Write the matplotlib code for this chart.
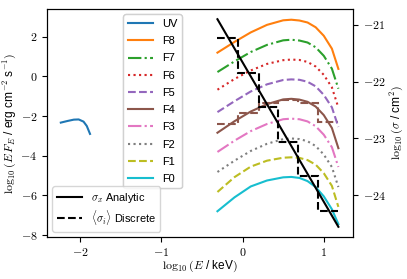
import matplotlib
matplotlib.use("Agg")
import matplotlib.pyplot as plt
from matplotlib.ticker import FuncFormatter
import numpy as np

plt.rcParams['mathtext.fontset'] = 'cm'
plt.rcParams['font.family'] = ['Liberation Sans', 'DejaVu Sans']

# UV part of the spectrum
uv_x = [-2.24, -2.16, -2.08, -2.02, -1.96, -1.92, -1.88]
uv_y = [-2.33, -2.25, -2.18, -2.17, -2.28, -2.50, -2.90]

# X-ray spectra, all on the same energy grid
fx = [-0.31, -0.1, 0.1, 0.3, 0.5, 0.6, 0.7, 0.8, 0.9, 1.0, 1.1, 1.18]
F8 = [1.20, 1.74, 2.22, 2.60, 2.83, 2.86, 2.82, 2.72, 2.48, 2.05, 1.40, 0.38]
F7 = [0.22, 0.76, 1.23, 1.59, 1.82, 1.85, 1.81, 1.71, 1.47, 1.04, 0.39, -0.62]
F6 = [-0.67, -0.13, 0.30, 0.63, 0.82, 0.85, 0.83, 0.73, 0.50, 0.08, -0.55, -1.58]
F5 = [-1.80, -1.25, -0.76, -0.40, -0.18, -0.15, -0.17, -0.27, -0.50, -0.93, -1.56, -2.55]
F4 = [-2.84, -2.26, -1.77, -1.40, -1.16, -1.13, -1.17, -1.28, -1.52, -1.95, -2.60, -3.62]
F3 = [-3.81, -3.24, -2.76, -2.40, -2.16, -2.13, -2.16, -2.27, -2.51, -2.94, -3.57, -4.57]
F2 = [-4.82, -4.25, -3.76, -3.40, -3.16, -3.13, -3.16, -3.27, -3.51, -3.94, -4.57, -5.58]
F1 = [-5.83, -5.08, -4.55, -4.25, -4.10, -4.08, -4.11, -4.22, -4.45, -4.88, -5.52, -6.58]
F0 = [-6.80, -6.10, -5.55, -5.25, -5.09, -5.07, -5.12, -5.28, -5.58, -6.05, -6.70, -7.45]
spectra = [('F8', F8), ('F7', F7), ('F6', F6), ('F5', F5), ('F4', F4),
           ('F3', F3), ('F2', F2), ('F1', F1), ('F0', F0)]
styles = ['-', '-.', ':', '--']

# binned F4 flux
bin_edges = [-0.31, -0.06, 0.20, 0.43, 0.68, 0.93, 1.17]
f4_binned = [-2.40, -1.83, -1.36, -1.18, -1.36, -2.28]

# cross sections (right axis)
sig_x = [-0.31, 1.18]
sig_y = [-20.90, -24.56]
sig_binned = [-21.23, -21.84, -22.45, -23.07, -23.67, -24.28]

fig = plt.figure(figsize=(4.07, 2.79), dpi=100)
ax1 = fig.add_axes([0.1155, 0.1505, 0.7518, 0.8172])
ax2 = ax1.twinx()

lines = []
l, = ax1.plot(uv_x, uv_y, color='C0', lw=1.5, label='UV')
lines.append(l)
for i, (name, ys) in enumerate(spectra):
    l, = ax1.plot(fx, ys, color='C%d' % (i + 1), ls=styles[i % 4], lw=1.5, label=name)
    lines.append(l)
ax1.stairs(f4_binned, bin_edges, color='C5', ls='--', lw=1.5, baseline=None)

ax2.plot(sig_x, sig_y, color='black', lw=1.5)
ax2.stairs(sig_binned, bin_edges, color='black', ls='--', lw=1.5, baseline=None)

ax1.set_xlim(-2.41, 1.36)
ax1.set_ylim(-8.1, 3.4)
ax2.set_ylim(-24.74, -20.72)
ax1.set_xticks([-2, -1, 0, 1])
ax1.set_yticks([-8, -6, -4, -2, 0, 2])
ax2.set_yticks([-24, -23, -22, -21])

fmt = FuncFormatter(lambda v, p: r'$%d$' % v)
for a in (ax1, ax2):
    a.tick_params(labelsize=8.6)
    a.yaxis.set_major_formatter(fmt)
ax1.xaxis.set_major_formatter(fmt)

ax1.set_xlabel(r'$\log_{10}(E$ / keV$)$', fontsize=8.6, labelpad=0)
ax1.set_ylabel(r'$\log_{10}(E\,F_E$ / erg cm$^{-2}$ s$^{-1})$', fontsize=8.6, labelpad=1)
ax2.set_ylabel(r'$\log_{10}(\sigma$ / cm$^2)$', fontsize=8.6, labelpad=2)

leg1 = ax1.legend(handles=lines, loc='upper left', bbox_to_anchor=(0.232, 1.0),
                  fontsize=7.9, handlelength=2.3, labelspacing=0.66)
ax1.add_artist(leg1)
h1, = ax1.plot([], [], color='black', lw=1.5)
h2, = ax1.plot([], [], color='black', ls='--', lw=1.5)
ax2.legend([h1, h2], [r'$\sigma_x$ Analytic', r'$\langle\sigma_i\rangle$ Discrete'],
           loc='lower left', fontsize=7.9, handlelength=2.3, labelspacing=0.3)

fig.savefig('out.png', dpi=100)
